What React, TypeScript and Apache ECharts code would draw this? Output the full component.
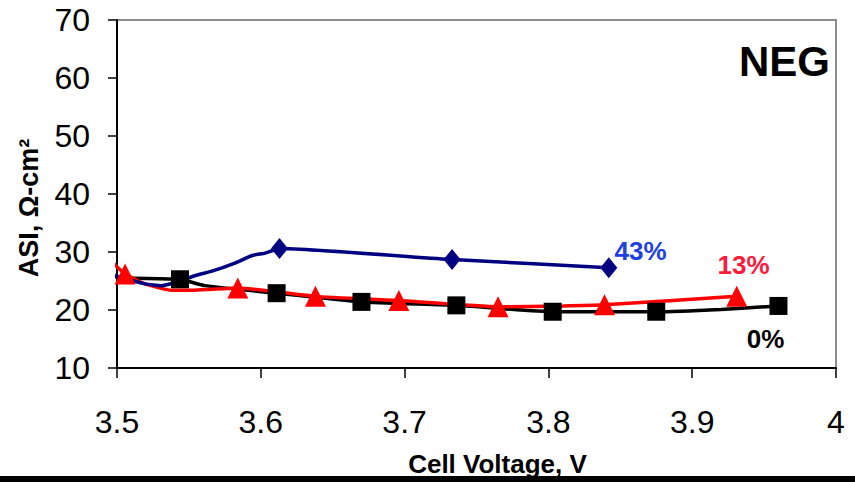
import React, { useEffect, useRef } from "react";
import * as echarts from "echarts";

// ASI vs cell voltage, NEG electrode
const xTicks = [3.5, 3.6, 3.7, 3.8, 3.9, 4];
const yTicks = [10, 20, 30, 40, 50, 60, 70];

// 43% curve and its markers
const curve43: number[][] = [
  [3.494, 26.2], [3.5195, 24.5], [3.531, 24.2], [3.544, 25.0], [3.554, 25.9],
  [3.566, 26.7], [3.582, 28.1], [3.594, 29.4], [3.603, 29.8], [3.613, 30.6],
  [3.733, 28.7], [3.842, 27.3],
];
const marks43: number[][] = [[3.613, 30.6], [3.733, 28.7], [3.842, 27.3]];

// 13% curve and its markers
const curve13: number[][] = [
  [3.494, 28.9], [3.5056, 26.2], [3.5195, 24.5], [3.538, 23.4], [3.554, 23.4],
  [3.584, 23.8], [3.638, 22.35], [3.696, 21.63], [3.765, 20.56], [3.81, 20.7],
  [3.839, 20.9], [3.931, 22.35],
];
const marks13: number[][] = [
  [3.5056, 26.2], [3.584, 23.8], [3.638, 22.35], [3.696, 21.63],
  [3.765, 20.56], [3.839, 20.9], [3.931, 22.35],
];

// 0% curve and its markers
const curve0: number[][] = [
  [3.494, 25.9], [3.5076, 25.5], [3.5438, 25.3], [3.561, 24.2], [3.611, 22.9],
  [3.67, 21.4], [3.736, 20.8], [3.803, 19.7], [3.875, 19.7], [3.92, 20.1],
  [3.96, 20.7],
];
const marks0: number[][] = [
  [3.5438, 25.3], [3.611, 22.9], [3.67, 21.4], [3.736, 20.8],
  [3.803, 19.7], [3.875, 19.7], [3.96, 20.7],
];

const FONT = "'Liberation Sans', Arial, sans-serif";

export default function App() {
  const ref = useRef<HTMLDivElement>(null);
  useEffect(() => {
    if (!ref.current) return;
    const chart = echarts.init(ref.current, null, { renderer: "svg" });
    const lineS = (name: string, data: number[][], color: string, z: number) => ({
      name,
      type: "line",
      data,
      symbol: "none",
      smooth: 0.15,
      clip: false,
      z,
      lineStyle: { color, width: 3.5 },
    });
    const markS = (name: string, data: number[][], color: string, symbol: string, size: any) => ({
      name: name + " markers",
      type: "scatter",
      data,
      symbol,
      symbolSize: size,
      clip: false,
      z: 5,
      itemStyle: { color, opacity: 1 },
    });
    chart.setOption({
      animation: false,
      backgroundColor: "#ffffff",
      grid: {
        left: 117,
        right: 19,
        top: 20,
        bottom: 106,
        show: true,
        borderColor: "#8c8c8c",
        borderWidth: 2,
        backgroundColor: "#ffffff",
      },
      xAxis: {
        type: "value",
        min: xTicks[0],
        max: xTicks[xTicks.length - 1],
        interval: 0.1,
        name: "Cell Voltage, V",
        nameLocation: "middle",
        nameGap: 83,
        nameTextStyle: {
          fontFamily: FONT,
          fontWeight: "bold",
          fontSize: 26,
          color: "#000",
          padding: [0, 0, 0, 42],
        },
        axisLine: { show: true, lineStyle: { color: "#000", width: 2 } },
        axisTick: { show: true, length: 10, lineStyle: { color: "#000", width: 1.5 } },
        axisLabel: {
          margin: 38,
          fontFamily: FONT,
          fontSize: 32,
          color: "#000",
          formatter: (v: number) => String(Math.round(v * 10) / 10),
        },
        splitLine: { show: false },
      },
      yAxis: {
        type: "value",
        min: yTicks[0],
        max: yTicks[yTicks.length - 1],
        interval: 10,
        name: "ASI, Ω-cm²",
        nameLocation: "middle",
        nameGap: 75,
        nameTextStyle: {
          fontFamily: FONT,
          fontWeight: "bold",
          fontSize: 27,
          color: "#000",
          padding: [0, 28, 0, 0],
        },
        axisLine: { show: true, lineStyle: { color: "#000", width: 2 } },
        axisTick: { show: true, length: 9, lineStyle: { color: "#000", width: 1.5 } },
        axisLabel: {
          margin: 27,
          fontFamily: FONT,
          fontSize: 32,
          color: "#000",
        },
        splitLine: { show: false },
      },
      series: [
        lineS("0%", curve0, "#000000", 2),
        lineS("13%", curve13, "#ff0000", 3),
        lineS("43%", curve43, "#000080", 4),
        markS("43%", marks43, "#000080", "diamond", [17, 21]),
        markS("0%", marks0, "#000000", "rect", [18, 18]),
        markS("13%", marks13, "#ff0000", "triangle", [21, 21]),
      ],
      graphic: [
        {
          type: "text",
          x: 784.5,
          y: 61,
          z: 10,
          style: {
            text: "NEG",
            fill: "#000",
            font: "bold 42px " + FONT,
            textAlign: "center",
            textVerticalAlign: "middle",
          },
        },
        {
          type: "text",
          x: 640.5,
          y: 251,
          z: 10,
          style: {
            text: "43%",
            fill: "#2040e0",
            font: "bold 26px " + FONT,
            textAlign: "center",
            textVerticalAlign: "middle",
          },
        },
        {
          type: "text",
          x: 743.5,
          y: 264.5,
          z: 10,
          style: {
            text: "13%",
            fill: "#ff1a3c",
            font: "bold 26px " + FONT,
            textAlign: "center",
            textVerticalAlign: "middle",
          },
        },
        {
          type: "text",
          x: 765.5,
          y: 339,
          z: 10,
          style: {
            text: "0%",
            fill: "#000",
            font: "bold 26px " + FONT,
            textAlign: "center",
            textVerticalAlign: "middle",
          },
        },
        {
          type: "rect",
          z: 100,
          shape: { x: 0, y: 476, width: 855, height: 6 },
          style: { fill: "#000" },
        },
      ],
    });
    return () => chart.dispose();
  }, []);
  return (
    <div
      ref={ref}
      style={{ position: "fixed", left: 0, top: 0, width: 855, height: 482 }}
    />
  );
}
